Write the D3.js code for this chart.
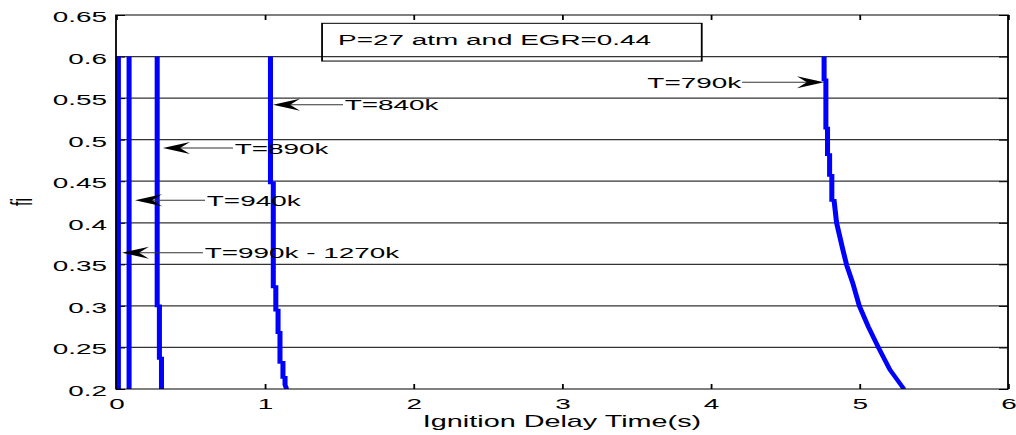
<!DOCTYPE html>
<html>
<head>
<meta charset="utf-8">
<script src="https://cdn.jsdelivr.net/npm/d3@7"></script>
<style>
    body { margin: 0; background: #fff; overflow: hidden; }
    text { font-family: "Liberation Sans", Arial, sans-serif; }
</style>
</head>
<body>
<div id="chart-container"></div>
<script>
// axis ticks
var xTicks = [0, 1, 2, 3, 4, 5, 6];
var yTicks = [0.2, 0.25, 0.3, 0.35, 0.4, 0.45, 0.5, 0.55, 0.6, 0.65];

// series: ignition delay time (s) vs fi
var t1270 = [0.016, 0.016];
var fi1270 = [0.6, 0.2];

var t940 = [0.088, 0.088];
var fi940 = [0.6, 0.2];

var t890 = [0.277, 0.277, 0.292, 0.292, 0.306, 0.306];
var fi890 = [0.6, 0.30, 0.30, 0.237, 0.237, 0.2];

var t840 = [1.039, 1.039, 1.058, 1.058, 1.075, 1.075, 1.09, 1.09, 1.103, 1.103, 1.123, 1.123, 1.137, 1.137, 1.148];
var fi840 = [0.6, 0.448, 0.448, 0.323, 0.323, 0.295, 0.295, 0.268, 0.268, 0.232, 0.232, 0.214, 0.214, 0.205, 0.2];

var t790 = [4.763, 4.763, 4.775, 4.775, 4.786, 4.786, 4.80, 4.80, 4.815, 4.815, 4.83, 4.847, 4.89, 4.915, 4.955, 5.00, 5.06, 5.128, 5.206, 5.30];
var fi790 = [0.6, 0.572, 0.572, 0.514, 0.514, 0.482, 0.482, 0.457, 0.457, 0.427, 0.427, 0.40, 0.367, 0.349, 0.328, 0.30, 0.275, 0.25, 0.223, 0.2];

// annotations: label, arrow tail (t, fi) and arrow tip t
var annLabels = ["T=790k", "T=840k", "T=890k", "T=940k", "T=990k - 1270k"];
var annTail = [4.211, 1.527, 0.787, 0.599, 0.585];
var annTip = [4.762, 1.056, 0.316, 0.128, 0.04];
var annFi = [0.569, 0.542, 0.49, 0.427, 0.364];

var boxText = "P=27 atm and EGR=0.44";

function plot(){
    var W = 1016, H = 435;
    var sx = 1.8;             // the figure is stretched sideways
    var vbW = W / sx;
    var left = 116 / sx, right = 1008 / sx, top = 15, bottom = 389;
    var fs = 15.5;

    var svg = d3.select("#chart-container").append("svg")
        .attr("width", W).attr("height", H)
        .attr("viewBox", "0 0 " + vbW + " " + H)
        .attr("preserveAspectRatio", "none");

    var x = d3.scaleLinear().domain([0, 6]).range([left, right]);
    var y = d3.scaleLinear().domain([0.2, 0.65]).range([bottom, top]);

    //Grid lines
    svg.append("g").selectAll("line")
        .data(yTicks.slice(1, -1))
        .enter().append("line")
        .attr("x1", left).attr("x2", right)
        .attr("y1", function(d){ return y(d); })
        .attr("y2", function(d){ return y(d); })
        .attr("stroke", "#333").attr("stroke-width", 1.2);

    //Axes, ticks inward
    var fmt = function(d){ return String(+d.toFixed(2)); };
    var gx = svg.append("g").attr("transform", "translate(0," + bottom + ")")
        .call(d3.axisBottom(x).tickValues(xTicks).tickSize(-5).tickPadding(9).tickFormat(fmt));
    var gxt = svg.append("g").attr("transform", "translate(0," + top + ")")
        .call(d3.axisTop(x).tickValues(xTicks).tickSize(-5).tickFormat(""));
    var gy = svg.append("g").attr("transform", "translate(" + left + ",0)")
        .call(d3.axisLeft(y).tickValues(yTicks).tickSize(-5).tickPadding(5).tickFormat(fmt));
    var gyr = svg.append("g").attr("transform", "translate(" + right + ",0)")
        .call(d3.axisRight(y).tickValues(yTicks).tickSize(-5).tickFormat(""));

    [gx, gxt, gy, gyr].forEach(function(g){
        g.select(".domain").remove();
        g.selectAll("line").attr("stroke", "#000").attr("stroke-width", 1);
        g.selectAll("text").attr("fill", "#000").style("font-size", fs + "px")
            .style("font-family", "'Liberation Sans', Arial, sans-serif");
    });
    gy.selectAll("text").attr("dy", "0.42em");

    //Curves
    svg.append("clipPath").attr("id", "plotclip")
        .append("rect").attr("x", left).attr("y", top)
        .attr("width", right - left).attr("height", bottom - top);

    var series = [[t1270, fi1270], [t940, fi940], [t890, fi890], [t840, fi840], [t790, fi790]];
    var line = d3.line()
        .x(function(d){ return x(d[0]); })
        .y(function(d){ return y(d[1]); });

    svg.append("g").attr("clip-path", "url(#plotclip)")
        .selectAll("path")
        .data(series)
        .enter().append("path")
        .attr("d", function(s){ return line(d3.zip(s[0], s[1])); })
        .attr("fill", "none")
        .attr("stroke", "#0000ff")
        .attr("stroke-width", 2.8)
        .attr("stroke-linejoin", "miter");

    //Axes box
    svg.append("rect")
        .attr("x", left).attr("y", top)
        .attr("width", right - left).attr("height", bottom - top)
        .attr("fill", "none").attr("stroke", "#000").attr("stroke-width", 1);

    //Text box
    svg.append("rect")
        .attr("x", x(1.386)).attr("y", y(0.640))
        .attr("width", x(3.94) - x(1.386)).attr("height", y(0.5946) - y(0.640))
        .attr("fill", "none").attr("stroke", "#000").attr("stroke-width", 1);
    svg.append("text")
        .attr("x", x(1.386) + 8.9).attr("y", y(0.640) + 21.5)
        .style("font-size", fs + "px")
        .text(boxText);

    //Arrows with labels
    var L = 15, hh = 6, notch = 5.5;
    annLabels.forEach(function(lab, i){
        var x0 = x(annTail[i]), x1 = x(annTip[i]), yy = y(annFi[i]);
        var dir = x1 > x0 ? 1 : -1;
        svg.append("line")
            .attr("x1", x0).attr("x2", x1 - dir * (L - notch))
            .attr("y1", yy).attr("y2", yy)
            .attr("stroke", "#333").attr("stroke-width", 1);
        svg.append("path")
            .attr("d", "M" + x1 + "," + yy +
                "L" + (x1 - dir * L) + "," + (yy - hh) +
                "L" + (x1 - dir * (L - notch)) + "," + yy +
                "L" + (x1 - dir * L) + "," + (yy + hh) + "Z")
            .attr("fill", "#000");
        svg.append("text")
            .attr("x", x0 + (dir > 0 ? -0.5 : 1))
            .attr("y", yy)
            .attr("dy", "0.36em")
            .attr("text-anchor", dir > 0 ? "end" : "start")
            .style("font-size", fs + "px")
            .text(lab);
    });

    //Axis labels
    svg.append("text")
        .attr("x", (left + right) / 2).attr("y", 427)
        .attr("text-anchor", "middle")
        .style("font-size", "16px")
        .text("Ignition Delay Time(s)");

    svg.append("text")
        .attr("transform", "translate(17.5," + ((top + bottom) / 2) + ") rotate(-90)")
        .attr("text-anchor", "middle")
        .style("font-size", "16px")
        .text("fi");
}

plot();
</script>
</body>
</html>
